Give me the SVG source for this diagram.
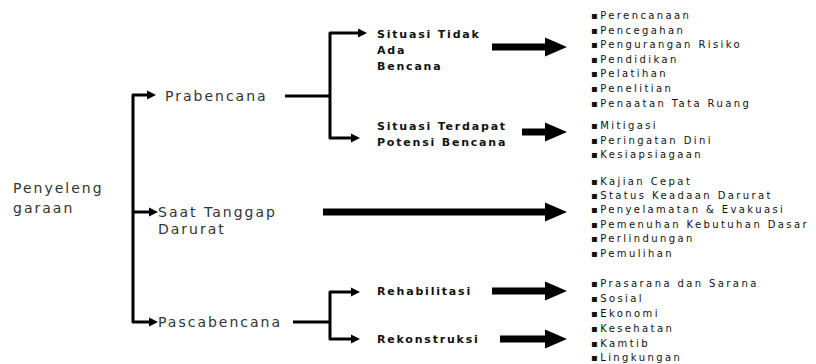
<svg xmlns="http://www.w3.org/2000/svg" width="816" height="364" viewBox="0 0 816 364">
<style>
.main{font-family:"DejaVu Sans",Verdana,sans-serif;font-size:14px;fill:#333;letter-spacing:2px}
.bold{font-family:"DejaVu Sans",Verdana,sans-serif;font-size:11px;font-weight:bold;fill:#111;letter-spacing:1.8px}
.item{font-family:"DejaVu Sans",Verdana,sans-serif;font-size:10px;fill:#111;letter-spacing:2.4px}
.thin{fill:none;stroke:#000;stroke-width:3;stroke-linejoin:round}
.thick{fill:none;stroke:#000;stroke-width:7}
.head{fill:#000}
</style>
<rect width="816" height="364" fill="#fff"/>
<g id="connectors">
  <path class="thin" d="M148 95 H133 V322 H149 M133 212 H149"/>
  <polygon class="head" points="147,90.5 156,95 147,99.5"/>
  <polygon class="head" points="149,207.5 158,212 149,216.5"/>
  <polygon class="head" points="149,317.5 158,322 149,326.5"/>
  <path class="thin" d="M285 96 H330 M359 33 H330 V138 H352"/>
  <polygon class="head" points="358,28.5 367,33 358,37.5"/>
  <polygon class="head" points="351,133.5 360,138 351,142.5"/>
  <path class="thin" d="M293 322 H330 M352 292 H330 V339 H352"/>
  <polygon class="head" points="351,287.5 360,292 351,296.5"/>
  <polygon class="head" points="351,334.5 360,339 351,343.5"/>
  <path class="thick" d="M492 47 H548 M522 132 H548 M323 212 H548 M492 291 H548 M500 339 H548"/>
  <polygon class="head" points="545,37.5 567,47 545,56.5"/>
  <polygon class="head" points="545,122.5 567,132 545,141.5"/>
  <polygon class="head" points="545,202.5 567,212 545,221.5"/>
  <polygon class="head" points="545,281.5 567,291 545,300.5"/>
  <polygon class="head" points="545,329.5 567,339 545,348.5"/>
</g>
<g id="penyelenggaraan">
  <text class="main" x="13" y="193">Penyeleng</text>
  <text class="main" x="13" y="213">garaan</text>
</g>
<g id="prabencana"><text class="main" x="165" y="101">Prabencana</text></g>
<g id="saat-tanggap">
  <text class="main" x="158" y="217">Saat Tanggap</text>
  <text class="main" x="158" y="234">Darurat</text>
</g>
<g id="pascabencana"><text class="main" x="158" y="327">Pascabencana</text></g>
<g id="situasi-tidak">
  <text class="bold" x="377" y="38">Situasi Tidak</text>
  <text class="bold" x="377" y="54">Ada</text>
  <text class="bold" x="377" y="70">Bencana</text>
</g>
<g id="situasi-terdapat">
  <text class="bold" x="377" y="130">Situasi Terdapat</text>
  <text class="bold" x="377" y="146">Potensi Bencana</text>
</g>
<g id="rehabilitasi"><text class="bold" x="377" y="295">Rehabilitasi</text></g>
<g id="rekonstruksi"><text class="bold" x="377" y="343">Rekonstruksi</text></g>
<g id="list-tidak-ada">
  <text class="item" x="591" y="18.5">▪Perencanaan</text>
  <text class="item" x="591" y="33.5">▪Pencegahan</text>
  <text class="item" x="591" y="47.5">▪Pengurangan Risiko</text>
  <text class="item" x="591" y="63">▪Pendidikan</text>
  <text class="item" x="591" y="76.5">▪Pelatihan</text>
  <text class="item" x="591" y="91.5">▪Penelitian</text>
  <text class="item" x="591" y="106.5">▪Penaatan Tata Ruang</text>
</g>
<g id="list-potensi">
  <text class="item" x="591" y="128.5">▪Mitigasi</text>
  <text class="item" x="591" y="143.5">▪Peringatan Dini</text>
  <text class="item" x="591" y="157.5">▪Kesiapsiagaan</text>
</g>
<g id="list-darurat">
  <text class="item" x="591" y="184.5">▪Kajian Cepat</text>
  <text class="item" x="591" y="198.5">▪Status Keadaan Darurat</text>
  <text class="item" x="591" y="212.5">▪Penyelamatan &amp; Evakuasi</text>
  <text class="item" x="591" y="227.5">▪Pemenuhan Kebutuhan Dasar</text>
  <text class="item" x="591" y="241.5">▪Perlindungan</text>
  <text class="item" x="591" y="257">▪Pemulihan</text>
</g>
<g id="list-pasca">
  <text class="item" x="591" y="286.5">▪Prasarana dan Sarana</text>
  <text class="item" x="591" y="301.5">▪Sosial</text>
  <text class="item" x="591" y="316.5">▪Ekonomi</text>
  <text class="item" x="591" y="331.5">▪Kesehatan</text>
  <text class="item" x="591" y="346.5">▪Kamtib</text>
  <text class="item" x="591" y="360.5">▪Lingkungan</text>
</g>
</svg>
